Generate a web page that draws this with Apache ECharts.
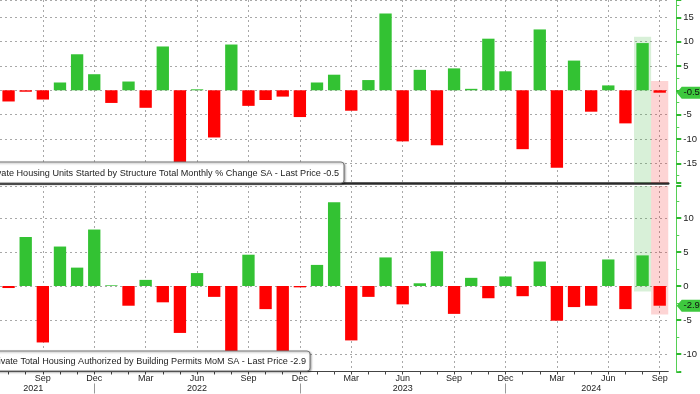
<!DOCTYPE html>
<html><head><meta charset="utf-8">
<script src="https://cdn.jsdelivr.net/npm/echarts@6/dist/echarts.min.js"></script>
<style>html,body{margin:0;padding:0;background:#fff;overflow:hidden}#c{width:700px;height:394px}</style>
</head><body><div id="c"></div>
<script>
const categories = [
  'Jul 2021','Aug 2021','Sep 2021','Oct 2021','Nov 2021','Dec 2021',
  'Jan 2022','Feb 2022','Mar 2022','Apr 2022','May 2022','Jun 2022','Jul 2022','Aug 2022','Sep 2022','Oct 2022','Nov 2022','Dec 2022',
  'Jan 2023','Feb 2023','Mar 2023','Apr 2023','May 2023','Jun 2023','Jul 2023','Aug 2023','Sep 2023','Oct 2023','Nov 2023','Dec 2023',
  'Jan 2024','Feb 2024','Mar 2024','Apr 2024','May 2024','Jun 2024','Jul 2024','Aug 2024','Sep 2024'
];
// Housing starts, monthly % change SA
const startsPct = [
  -2.3, -0.3, -1.9, 1.6, 7.4, 3.3,
  -2.6, 1.8, -3.6, 9.0, -15.4, 0.2, -9.7, 9.4, -3.2, -2.0, -1.3, -5.5,
  1.6, 3.2, -4.2, 2.1, 15.8, -10.5, 4.2, -11.3, 4.5, 0.3, 10.6, 3.9,
  -12.1, 12.5, -15.9, 6.1, -4.4, 1.0, -6.8, 9.7, -0.5
];
// Building permits, MoM % SA
const permitsPct = [
  -0.3, 7.2, -8.3, 5.8, 2.7, 8.3,
  0.1, -2.9, 0.9, -2.4, -6.9, 1.9, -1.6, -10.2, 4.6, -3.4, -11.0, -0.2,
  3.1, 12.3, -8.0, -1.6, 4.2, -2.7, 0.4, 5.1, -4.1, 1.2, -1.8, 1.4,
  -1.5, 3.6, -5.1, -3.1, -2.9, 3.9, -3.4, 4.5, -2.9
];
const quarterMonths = ['Mar', 'Jun', 'Sep', 'Dec'];
const yearLabelCats = ['Sep 2021', 'Jun 2022', 'Jun 2023', 'May 2024'];
const yearLabelText = ['2021', '2022', '2023', '2024'];
const yearDividerCats = ['Dec 2021', 'Dec 2022', 'Dec 2023'];
const highlightCats = ['Aug 2024', 'Sep 2024'];
const topBandHigh = [11, 1.9];
const bottomBandLow = [-0.8, -4.2];
const topTitle = 'Private Housing Units Started by Structure Total Monthly % Change SA - Last Price -0.5';
const bottomTitle = 'Private Total Housing Authorized by Building Permits MoM SA - Last Price -2.9';

const GREEN = '#33c233', RED = '#ff0000';
const BAND_G = 'rgba(60,180,60,0.2)', BAND_R = 'rgba(245,40,40,0.2)';
const FONT = 'Liberation Sans';
const topMin = -19.05, topMax = 18.55, botMin = -12.57, botMax = 14.7;

const isQuarter = (i, v) => quarterMonths.indexOf(String(v).slice(0, 3)) >= 0;
const dotted = { color: '#a8a8a8', width: 1, type: [2, 3] };

function barData(arr) {
  return arr.map(v => ({ value: v, itemStyle: { color: v >= 0 ? GREEN : RED } }));
}
function bandRender(params, api) {
  const idx = api.value(0), lo = api.value(1), hi = api.value(2);
  const p1 = api.coord([idx, hi]);
  const p2 = api.coord([idx, lo]);
  const w = api.size([1, 0])[0];
  return { type: 'rect', shape: { x: p1[0] - w / 2, y: p1[1], width: w, height: p2[1] - p1[1] },
           style: { fill: api.visual('color') } };
}
const tagPath = 'path://M0,6 L5,0 L26,0 L26,12 L5,12 Z';
function tag(cat, val) {
  return {
    symbol: tagPath, symbolSize: [26, 12], symbolKeepAspect: false, symbolOffset: [30, 0],
    itemStyle: { color: '#3ec83e' },
    label: { show: true, position: 'inside', offset: [2, 0], color: '#111', fontSize: 9.5, fontFamily: FONT,
             formatter: () => String(val) },
    data: [{ coord: [cat, val], value: val }]
  };
}
function yAxisCfg(grid, min, max, split, hideZero) {
  return {
    type: 'value', gridIndex: grid, position: 'right', offset: 8, min: min, max: max, splitNumber: split,
    axisLine: { show: true, lineStyle: { color: '#55d055', width: 1 } },
    axisTick: { show: true, length: 5, lineStyle: { color: '#2fb82f', width: 2 } },
    minorTick: { show: true, splitNumber: 2, length: 3, lineStyle: { color: '#55d055' } },
    axisLabel: { show: true, margin: 7, color: '#222', fontSize: 9.5, fontFamily: FONT,
                 showMinLabel: false, showMaxLabel: false,
                 formatter: v => (hideZero && v === 0) ? '' : String(v) },
    splitLine: { show: true, lineStyle: dotted }
  };
}

const chart = echarts.init(document.getElementById('c'), null, { renderer: 'canvas' });
const lastCat = categories[categories.length - 1];
chart.setOption({
  animation: false,
  backgroundColor: '#fff',
  grid: [
    { left: -0.74, right: 30.7, top: 0, height: 183 },
    { left: -0.74, right: 30.7, top: 186, height: 185.5 }
  ],
  xAxis: [
    { type: 'category', gridIndex: 0, data: categories, boundaryGap: true,
      axisLine: { show: true, onZero: false, lineStyle: { color: '#2a2a2a', width: 2.5 } },
      axisTick: { show: false }, axisLabel: { show: false },
      splitLine: { show: true, interval: isQuarter, alignWithLabel: true, lineStyle: dotted } },
    { type: 'category', gridIndex: 1, data: categories, boundaryGap: true,
      axisLine: { show: true, onZero: false, lineStyle: { color: '#444', width: 1 } },
      axisTick: { show: true, alignWithLabel: true, interval: 0, length: 3, lineStyle: { color: '#444' } },
      axisLabel: { show: true, interval: isQuarter, margin: 3, color: '#222', fontSize: 9, fontFamily: FONT,
                   formatter: v => v.slice(0, 3) },
      splitLine: { show: true, interval: isQuarter, alignWithLabel: true, lineStyle: dotted } },
    { type: 'category', gridIndex: 1, data: categories, boundaryGap: true, position: 'bottom', offset: 12,
      axisLine: { show: false, onZero: false },
      axisTick: { show: true, alignWithLabel: true, length: 10,
                  interval: (i, v) => yearDividerCats.indexOf(v) >= 0, lineStyle: { color: '#999' } },
      axisLabel: { show: true, interval: (i, v) => yearLabelCats.indexOf(v) >= 0, margin: 1,
                   color: '#222', fontSize: 9, fontFamily: FONT,
                   formatter: (v, i) => {
                     const k = yearLabelCats.indexOf(v);
                     return k === 0 ? '{s|' + yearLabelText[k] + '}' : '{n|' + yearLabelText[k] + '}';
                   },
                   rich: { s: { padding: [0, 19, 0, 0], fontSize: 9, fontFamily: FONT, color: '#222' },
                           n: { fontSize: 9, fontFamily: FONT, color: '#222' } } },
      splitLine: { show: false } }
  ],
  yAxis: [
    yAxisCfg(0, topMin, topMax, 8, true),
    yAxisCfg(1, botMin, botMax, 6, false)
  ],
  series: [
    { type: 'custom', xAxisIndex: 0, yAxisIndex: 0, renderItem: bandRender, z: 1, silent: true,
      data: highlightCats.map((c, i) => ({ value: [c, topMin, topBandHigh[i]], itemStyle: { color: i === 0 ? BAND_G : BAND_R } })) },
    { type: 'custom', xAxisIndex: 1, yAxisIndex: 1, renderItem: bandRender, z: 1, silent: true,
      data: highlightCats.map((c, i) => ({ value: [c, bottomBandLow[i], botMax], itemStyle: { color: i === 0 ? BAND_G : BAND_R } })) },
    { type: 'bar', xAxisIndex: 0, yAxisIndex: 0, barWidth: '72%', z: 3, data: barData(startsPct),
      markPoint: tag(lastCat, startsPct[startsPct.length - 1]) },
    { type: 'bar', xAxisIndex: 1, yAxisIndex: 1, barWidth: '72%', z: 3, data: barData(permitsPct),
      markPoint: tag(lastCat, permitsPct[permitsPct.length - 1]) }
  ],
  graphic: [
    { type: 'rect', z: 100, shape: { x: -6, y: 162, width: 350, height: 21, r: 3 },
      style: { fill: '#fff', stroke: '#777', lineWidth: 1, shadowColor: 'rgba(0,0,0,0.35)', shadowBlur: 2, shadowOffsetX: 1, shadowOffsetY: 1 } },
    { type: 'text', z: 101, x: 339, y: 173, style: { text: topTitle, align: 'right', verticalAlign: 'middle',
      font: '9.1px "Liberation Sans"', fill: '#222' } },
    { type: 'rect', z: 100, shape: { x: -6, y: 351, width: 316, height: 20, r: 3 },
      style: { fill: '#fff', stroke: '#777', lineWidth: 1, shadowColor: 'rgba(0,0,0,0.35)', shadowBlur: 2, shadowOffsetX: 1, shadowOffsetY: 1 } },
    { type: 'text', z: 101, x: 306, y: 361.5, style: { text: bottomTitle, align: 'right', verticalAlign: 'middle',
      font: '9.1px "Liberation Sans"', fill: '#222' } }
  ]
});
</script></body></html>
